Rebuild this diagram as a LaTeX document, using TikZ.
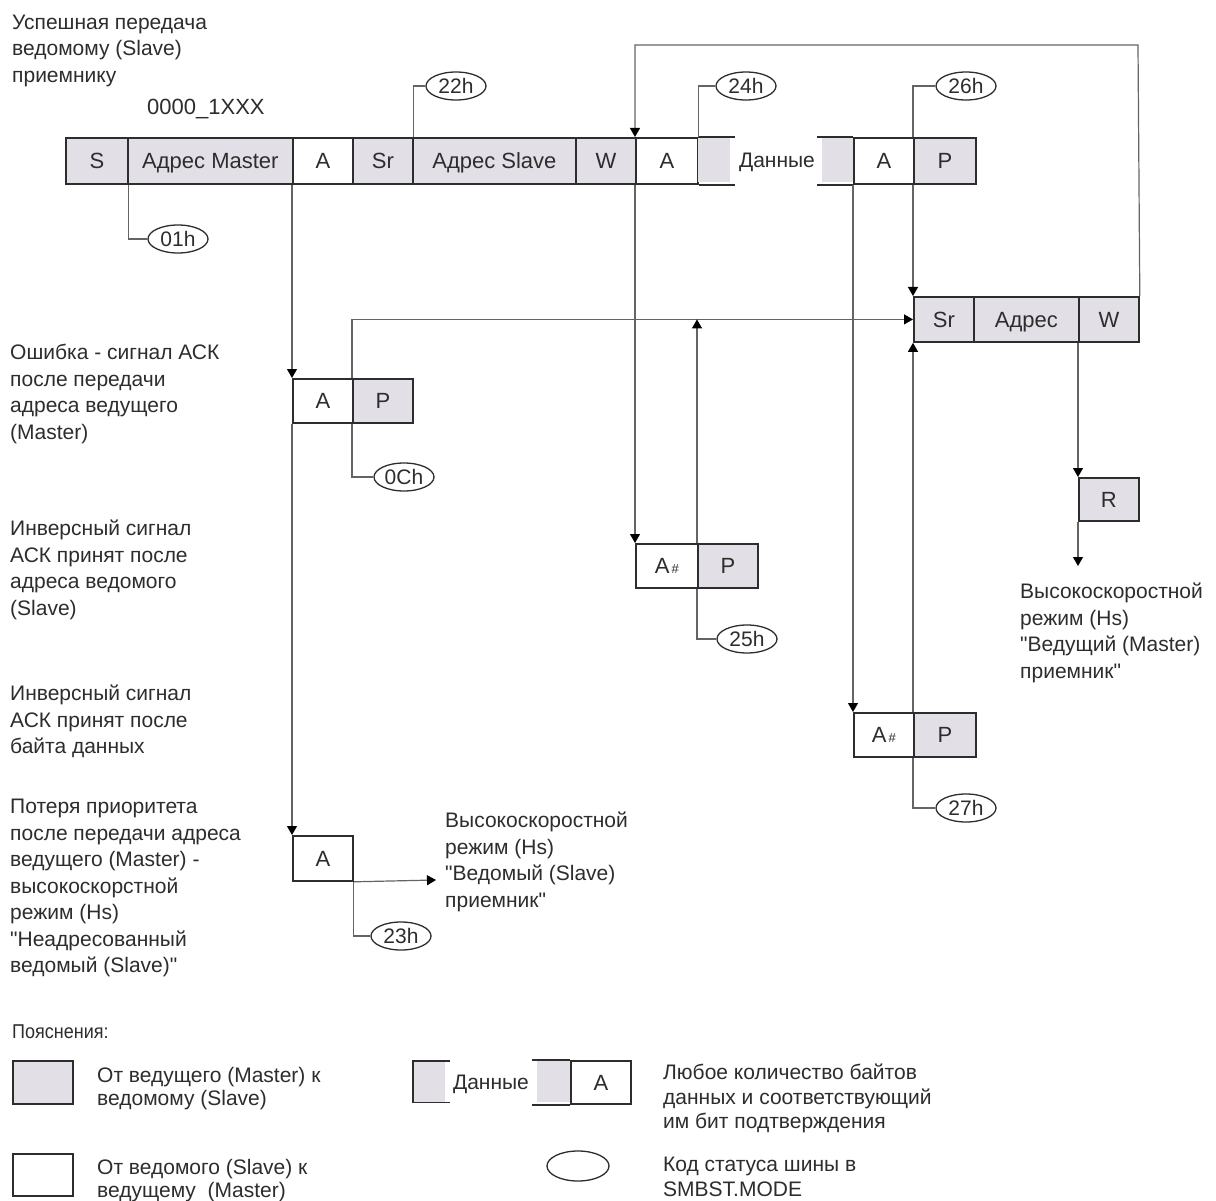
\documentclass[tikz,border=0pt]{standalone}
\usepackage{fontspec}
\setmainfont{Liberation Sans}
\newfontfamily\narrowfont[FakeStretch=0.9]{Liberation Sans}
\usetikzlibrary{arrows.meta,shapes.geometric}
\definecolor{boxgray}{RGB}{226,224,230}
\definecolor{linegray}{RGB}{100,100,100}
\definecolor{txtcol}{RGB}{45,45,45}
\definecolor{edgecol}{RGB}{45,45,45}
\newcommand{\qq}{\textquotedbl{}}
\begin{document}
\begin{tikzpicture}[x=1pt,y=-1pt,
  every node/.style={font=\fontsize{21}{26.5}\selectfont, text=txtcol},
  fld/.style={draw=edgecol, line width=1.8pt, minimum height=45pt, inner sep=0pt, anchor=north west, font=\fontsize{22}{26}\selectfont, text height=15.8pt, text depth=0pt},
  mfld/.style={fld, fill=boxgray},
  sfld/.style={fld, fill=white},
  bord/.style={draw=edgecol, line width=1.8pt},
  con/.style={draw=linegray, line width=1.2pt},
  arr/.style={con, -{Triangle[length=9pt,width=10pt,color=black]}},
  code/.style={ellipse, draw=edgecol, line width=1.3pt, minimum width=60pt, minimum height=28pt, inner sep=0pt},
  lbl/.style={align=left, anchor=north west, inner sep=0pt},
  leg/.style={lbl, font=\fontsize{21}{23.5}\selectfont}
]
\useasboundingbox (0,0) rectangle (1216,1201);
\fill[white] (0,0) rectangle (1216,1201);

% ---- texts on the left ----
\node[lbl] (t1) at (12,14.5) {Успешная передача\\ведомому (Slave)\\приемнику};
\node[anchor=west, inner sep=0pt, font=\fontsize{22}{26}\selectfont] (t0) at (147,109) {0000\_1XXX};
\node[lbl] (t2) at (10,344) {Ошибка - сигнал АСК\\после передачи\\адреса ведущего\\(Master)};
\node[lbl] (t3) at (10,520) {Инверсный сигнал\\АСК принят после\\адреса ведомого\\(Slave)};
\node[lbl] (t4) at (10,685) {Инверсный сигнал\\АСК принят после\\байта данных};
\node[lbl] (t5) at (10,799) {Потеря приоритета\\после передачи адреса\\ведущего (Master) -\\высокоскорстной\\режим (Hs)\\\qq Неадресованный\\ведомый (Slave)\qq};
\node[lbl] (t6) at (445,812) {Высокоскоростной\\режим (Hs)\\\qq Ведомый (Slave)\\приемник\qq};
\node[lbl] (t7) at (1020,583) {Высокоскоростной\\режим (Hs)\\\qq Ведущий (Master)\\приемник\qq};

% ---- top row ----
\node[mfld, minimum width=62pt, minimum height=46pt] (S) at (65,137) {S};
\node[mfld, minimum width=165pt, minimum height=46pt] (AM) at (127,137) {Адрес Master};
\node[sfld, minimum width=60pt, minimum height=46pt] (A1) at (292,137) {A};
\node[mfld, minimum width=60pt, minimum height=46pt] (Sr1) at (352,137) {Sr};
\node[mfld, minimum width=163pt, minimum height=46pt] (AS) at (412,137) {Адрес Slave};
\node[mfld, minimum width=60pt, minimum height=46pt] (W1) at (575,137) {W};
\node[sfld, minimum width=62pt, minimum height=46pt] (A2) at (635,137) {A};
\node[fill=boxgray, anchor=north west, inner sep=0pt, minimum width=32pt, minimum height=44pt] (D1) at (698,138) {};
\node[inner sep=0pt, text height=15pt, text depth=0pt] (Dt) at (777,160) {Данные};
\node[fill=boxgray, anchor=north west, inner sep=0pt, minimum width=31pt, minimum height=44pt] (D2) at (822,138) {};
\node[sfld, minimum width=60pt, minimum height=46pt] (A3) at (853,137) {A};
\node[mfld, minimum width=62pt, minimum height=46pt] (P1) at (913,137) {P};
\draw[bord] (A2.north east) -- ++(36,0);
\draw[bord] (A2.south east) -- ++(36,0);
\draw[bord] (A3.north west) -- ++(-36,0);
\draw[bord] (A3.south west) -- ++(-36,0);

% ---- second row right ----
\node[mfld, minimum width=60pt] (Sr2) at (913,296) {Sr};
\node[mfld, minimum width=105pt] (Ad2) at (973,296) {Адрес};
\node[mfld, minimum width=60pt] (W2) at (1078,296) {W};
\node[mfld, minimum width=60pt, minimum height=43pt] (R) at (1078,477) {R};

% ---- error boxes ----
\node[sfld, minimum width=60pt, minimum height=44pt] (Aerr) at (292,378) {A};
\node[mfld, minimum width=60pt, minimum height=44pt] (Perr) at (352,378) {P};
\node[sfld, minimum width=62pt, minimum height=44pt] (Ah1) at (635,543) {A{\fontsize{13}{13}\selectfont\,\#}};
\node[mfld, minimum width=60pt, minimum height=44pt] (P3) at (697,543) {P};
\node[sfld, minimum width=60pt, minimum height=44pt] (Ah2) at (853,712) {A{\fontsize{13}{13}\selectfont\,\#}};
\node[mfld, minimum width=62pt, minimum height=44pt] (P4) at (913,712) {P};
\node[sfld, minimum width=60pt, minimum height=45pt] (Aloss) at (292,835) {A};

% ---- status codes ----
\node[code] (o01) at (178,239) {01h};
\node[code] (o22) at (456,86) {22h};
\node[code] (o24) at (746,86) {24h};
\node[code] (o26) at (966,86) {26h};
\node[code] (o0C) at (404,477) {0Ch};
\node[code] (o25) at (747,639) {25h};
\node[code] (o27) at (966,808) {27h};
\node[code] (o23) at (401,936) {23h};

% ---- connectors ----
\draw[con] (S.south east) |- (o01.west);
\draw[con] (Sr1.north east) |- (o22.west);
\draw[con] (A2.north east) |- (o24.west);
\draw[con] (P1.north west) |- (o26.west);
\coordinate (loop) at (1138,45);
\draw[arr] (W2.north east) -- (loop) -| (A2.north west);
\draw[arr] (P1.south west) -- (Sr2.north west);
\draw[arr] (A1.south west) -- (Aerr.north west);
\draw[arr] (Aerr.south west) -- (Aloss.north west);
\draw[arr] (Perr.north west) |- (Sr2.west);
\draw[con] (Perr.south west) |- (o0C.west);
\draw[arr] (A2.south west) -- (Ah1.north west);
\draw[con] (P3.south west) |- (o25.west);
\draw[arr] (P3.north west) -- (P3.north west |- Sr2.west);
\draw[arr] (A3.south west) -- (Ah2.north west);
\draw[con] (P4.south west) |- (o27.west);
\draw[arr] (P4.north west) -- (Sr2.south west);
\draw[arr] (W2.south west) -- (R.north west);
\coordinate (Rend) at (1078,566);
\draw[arr] (R.south west) -- (Rend);
\coordinate (Hsend) at (436,880);
\draw[arr] (Aloss.south east) -- (Hsend);
\draw[con] (Aloss.south east) |- (o23.west);

% ---- legend ----
\node[lbl, font=\narrowfont\fontsize{20}{23.5}\selectfont] (lt) at (12,1025) {Пояснения:};
\node[mfld, minimum width=60pt, minimum height=43pt] (LG) at (12,1060) {};
\node[leg] (lg1) at (97,1067) {От ведущего (Master) к\\ведомому (Slave)};
\node[sfld, minimum width=60pt, minimum height=42pt] (LW) at (12,1153) {};
\node[leg] (lg2) at (97,1159) {От ведомого (Slave) к\\ведущему~~(Master)};
\node[fill=boxgray, anchor=north west, inner sep=0pt, minimum width=31pt, minimum height=41pt] (LD1) at (414,1061) {};
\node[inner sep=0pt, text height=15pt, text depth=0pt] (LDt) at (491,1082) {Данные};
\node[fill=boxgray, anchor=north west, inner sep=0pt, minimum width=33pt, minimum height=41pt] (LD2) at (537,1061) {};
\node[sfld, minimum width=60pt, minimum height=43pt] (LA) at (570,1060) {A};
\draw[bord] ([xshift=5pt]LD1.north east) -- ([xshift=-1pt]LD1.north west) -- ([xshift=-1pt]LD1.south west) -- ([xshift=5pt]LD1.south east);
\draw[bord] (LA.north west) -- ++(-38,0);
\draw[bord] (LA.south west) -- ++(-38,0);
\node[code, minimum width=62pt, minimum height=30pt] (LO) at (578,1166) {};
\node[lbl, font=\fontsize{21}{24.5}\selectfont] (lg3) at (663,1064) {Любое количество байтов\\данных и соответствующий\\им бит подтверждения};
\node[lbl, font=\fontsize{21}{24.5}\selectfont] (lg4) at (663,1157) {Код статуса шины в\\SMBST.MODE};
\end{tikzpicture}
\end{document}
